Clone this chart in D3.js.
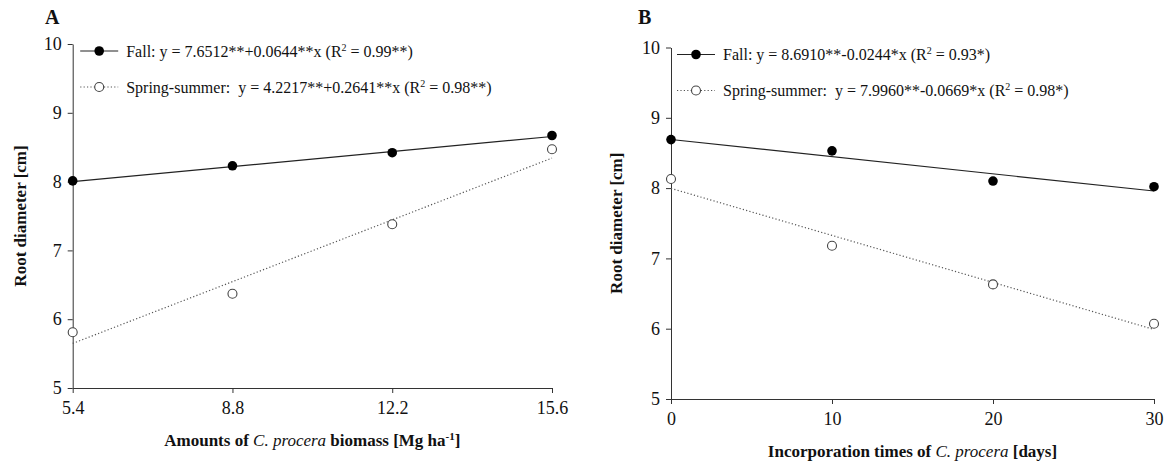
<!DOCTYPE html>
<html>
<head>
<meta charset="utf-8">
<script src="https://cdn.jsdelivr.net/npm/d3@7"></script>
<style>
  body { margin: 0; background: #fff; }
  svg { display: block; }
  text { font-family: "Liberation Serif", "Times New Roman", serif; fill: #111; }
</style>
</head>
<body>
<svg id="chart" width="1168" height="470"></svg>
<script>
// Panel A: amounts of biomass
var biomass = [5.4, 8.8, 12.2, 15.6];
var fallA = [8.01, 8.23, 8.42, 8.67];
var springA = [5.81, 6.37, 7.38, 8.47];
var fitFallA = [7.6512, 0.0644];
var fitSpringA = [4.2217, 0.2641];

// Panel B: incorporation times
var days = [0, 10, 20, 30];
var fallB = [8.69, 8.53, 8.10, 8.02];
var springB = [8.13, 7.18, 6.63, 6.07];
var fitFallB = [8.6910, -0.0244];
var fitSpringB = [7.9960, -0.0669];

var yTicks = [5, 6, 7, 8, 9, 10];

var svg = d3.select("svg#chart");

function drawPanel(p) {
  var g = svg.append("g");

  var x = d3.scaleLinear().domain(p.xDomain).range(p.xRange);
  var y = d3.scaleLinear().domain([5, 10]).range(p.yRange);

  // axes
  var yAxis = g.append("g")
    .attr("transform", "translate(" + p.xRange[0] + ",0)")
    .call(d3.axisLeft(y).tickValues(yTicks).tickSize(5).tickSizeOuter(0)
      .tickPadding(6).tickFormat(d3.format("d")));
  var xAxis = g.append("g")
    .attr("transform", "translate(0," + p.yRange[0] + ")")
    .call(d3.axisBottom(x).tickValues(p.xTicks).tickSize(5).tickSizeOuter(0)
      .tickPadding(8).tickFormat(p.fmt));
  [yAxis, xAxis].forEach(function(a) {
    a.attr("font-family", "Liberation Serif, Times New Roman, serif").attr("font-size", 18);
    a.selectAll("path, line").attr("stroke", "#333").attr("stroke-width", 1);
    a.selectAll("text").attr("fill", "#111");
  });

  // regression lines
  var xs = p.xDomain;
  g.append("line")
    .attr("x1", x(xs[0])).attr("y1", y(p.fitFall[0] + p.fitFall[1] * xs[0]))
    .attr("x2", x(xs[1])).attr("y2", y(p.fitFall[0] + p.fitFall[1] * xs[1]))
    .attr("stroke", "#222").attr("stroke-width", 1.2);
  g.append("line")
    .attr("x1", x(xs[0])).attr("y1", y(p.fitSpring[0] + p.fitSpring[1] * xs[0]))
    .attr("x2", x(xs[1])).attr("y2", y(p.fitSpring[0] + p.fitSpring[1] * xs[1]))
    .attr("stroke", "#555").attr("stroke-width", 1.2).attr("stroke-dasharray", "1.2,2.2");

  // points
  g.selectAll("circle.fall")
    .data(p.fall)
    .enter().append("circle")
    .attr("class", "fall")
    .attr("cx", (d, i) => x(p.xs[i]))
    .attr("cy", d => y(d))
    .attr("r", 4.8)
    .attr("fill", "#000");
  g.selectAll("circle.spring")
    .data(p.spring)
    .enter().append("circle")
    .attr("class", "spring")
    .attr("cx", (d, i) => x(p.xs[i]))
    .attr("cy", d => y(d))
    .attr("r", 4.5)
    .attr("fill", "#fff")
    .attr("stroke", "#444")
    .attr("stroke-width", 1.1);

  // legend
  var lx = p.xRange[0] + p.legendDx;
  var ly1 = p.yRange[1] + 7, ly2 = p.yRange[1] + 43;
  g.append("line").attr("x1", lx).attr("x2", lx + 38).attr("y1", ly1).attr("y2", ly1)
    .attr("stroke", "#222").attr("stroke-width", 1.2);
  g.append("circle").attr("cx", lx + 19).attr("cy", ly1).attr("r", 4.8).attr("fill", "#000");
  g.append("line").attr("x1", lx).attr("x2", lx + 38).attr("y1", ly2).attr("y2", ly2)
    .attr("stroke", "#555").attr("stroke-width", 1.2).attr("stroke-dasharray", "1.2,2.2");
  g.append("circle").attr("cx", lx + 19).attr("cy", ly2).attr("r", 4.5)
    .attr("fill", "#fff").attr("stroke", "#444").attr("stroke-width", 1.1);

  // label = [text before R, text after the superscript 2]
  function legendText(yy, label) {
    var t = g.append("text").attr("x", lx + 46).attr("y", yy + 5.5)
      .style("font-size", "16px").style("white-space", "pre");
    t.append("tspan").text(label[0]);
    t.append("tspan").attr("dy", -6).style("font-size", "10px").text("2");
    t.append("tspan").attr("dy", 6).text(label[1]);
  }
  legendText(ly1, p.fallLabel);
  legendText(ly2, p.springLabel);

  // panel letter
  g.append("text").attr("x", p.letterX).attr("y", 24)
    .style("font-size", "20px").style("font-weight", "bold").text(p.letter);

  // y title
  var cy = (p.yRange[0] + p.yRange[1]) / 2;
  g.append("text")
    .attr("transform", "translate(" + p.yTitleX + "," + cy + ") rotate(-90)")
    .attr("text-anchor", "middle")
    .style("font-size", "17px").style("font-weight", "bold")
    .text("Root diameter [cm]");

  // x title
  var xt = g.append("text")
    .attr("x", (p.xRange[0] + p.xRange[1]) / 2)
    .attr("y", p.yRange[0] + 58)
    .attr("text-anchor", "middle")
    .style("font-size", "17px").style("font-weight", "bold");
  p.xTitle(xt);
}

drawPanel({
  letter: "A", letterX: 45,
  xDomain: [5.4, 15.6], xRange: [72.7, 552], yRange: [388, 44],
  xTicks: biomass, xs: biomass, fmt: d3.format(".1f"),
  fall: fallA, spring: springA, fitFall: fitFallA, fitSpring: fitSpringA,
  legendDx: 7.5, yTitleX: 26,
  fallLabel: ["Fall: y = 7.6512**+0.0644**x (R", " = 0.99**)"],
  springLabel: ["Spring-summer:  y = 4.2217**+0.2641**x (R", " = 0.98**)"],
  xTitle: function(t) {
    t.append("tspan").text("Amounts of ");
    t.append("tspan").style("font-style", "italic").style("font-weight", "normal").text("C. procera");
    t.append("tspan").text(" biomass [Mg ha");
    t.append("tspan").attr("dy", -6).style("font-size", "11px").text("-1");
    t.append("tspan").attr("dy", 6).text("]");
  }
});

drawPanel({
  letter: "B", letterX: 638,
  xDomain: [0, 30], xRange: [671, 1154], yRange: [399, 47.5],
  xTicks: days, xs: days, fmt: d3.format("d"),
  fall: fallB, spring: springB, fitFall: fitFallB, fitSpring: fitSpringB,
  legendDx: 6, yTitleX: 622,
  fallLabel: ["Fall: y = 8.6910**-0.0244*x (R", " = 0.93*)"],
  springLabel: ["Spring-summer:  y = 7.9960**-0.0669*x (R", " = 0.98*)"],
  xTitle: function(t) {
    t.append("tspan").text("Incorporation times of ");
    t.append("tspan").style("font-style", "italic").style("font-weight", "normal").text("C. procera");
    t.append("tspan").text(" [days]");
  }
});
</script>
</body>
</html>
